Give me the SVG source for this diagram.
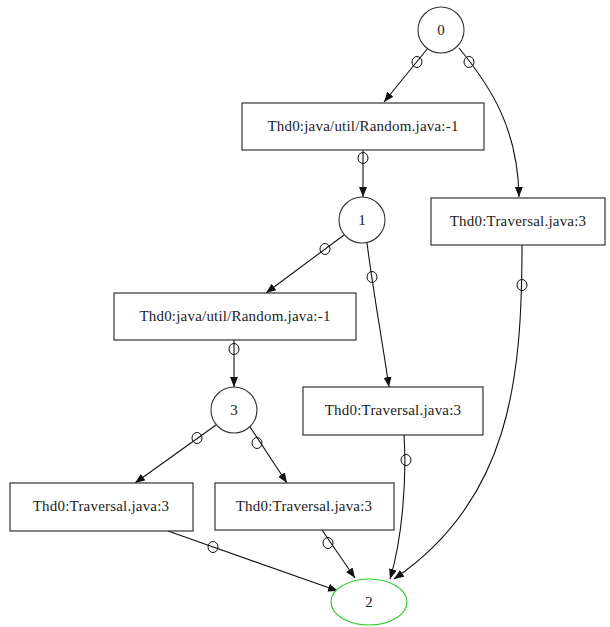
<svg xmlns="http://www.w3.org/2000/svg" width="610" height="627" viewBox="0 0 610 627">
  <style>
    .box { fill: #ffffff; stroke: #333333; stroke-width: 1.2; }
    .state { fill: #ffffff; stroke: #333333; stroke-width: 1.1; }
    .final { fill: #ffffff; stroke: #33cc33; stroke-width: 1.2; }
    .label { font-family: "Liberation Serif", "Times New Roman", serif; font-size: 15px; letter-spacing: 0.2px; fill: #222222; text-anchor: middle; }
    .num { font-family: "Liberation Serif", "Times New Roman", serif; font-size: 15px; fill: #222222; text-anchor: middle; }
    .edge { fill: none; stroke: #111111; stroke-width: 1.1; marker-end: url(#arrow); }
    .tail { fill: #ffffff; fill-opacity: 0; stroke: #111111; stroke-width: 1; }
  </style>
  <defs>
    <marker id="arrow" markerUnits="userSpaceOnUse" markerWidth="11" markerHeight="9" refX="10" refY="4" orient="auto">
      <path d="M0,0 L10,4 L0,8 z" fill="#111111"/>
    </marker>
  </defs>
  <rect width="610" height="627" fill="#ffffff"/>

  <g id="connectors">
    <!-- 0 -> Random (top) -->
    <path class="edge" d="M428,48 L384,102"/>
    <ellipse class="tail" cx="417" cy="62" rx="5" ry="5.5"/>
    <!-- 0 -> Traversal (right) -->
    <path class="edge" d="M459,48 C492,88 518,130 519,197"/>
    <ellipse class="tail" cx="469" cy="62" rx="5" ry="5.5"/>
    <!-- Random (top) -> 1 -->
    <path class="edge" d="M363,150 L363,197"/>
    <ellipse class="tail" cx="363" cy="158" rx="5" ry="5.5"/>
    <!-- 1 -> Random (middle) -->
    <path class="edge" d="M344,235 L266,293"/>
    <ellipse class="tail" cx="325" cy="249" rx="5" ry="5.5"/>
    <!-- 1 -> Traversal (middle right) -->
    <path class="edge" d="M367,243 C373,290 382,340 389,387"/>
    <ellipse class="tail" cx="372" cy="277" rx="5" ry="5.5"/>
    <!-- Traversal (right) -> 2 -->
    <path class="edge" d="M522,245 C522,380 510,500 394,579"/>
    <ellipse class="tail" cx="522" cy="285" rx="5" ry="5.5"/>
    <!-- Random (middle) -> 3 -->
    <path class="edge" d="M234,340 L234,387"/>
    <ellipse class="tail" cx="234" cy="349" rx="5" ry="5.5"/>
    <!-- 3 -> Traversal (bottom left) -->
    <path class="edge" d="M216,425 L135,483"/>
    <ellipse class="tail" cx="197" cy="438" rx="5" ry="5.5"/>
    <!-- 3 -> Traversal (bottom middle) -->
    <path class="edge" d="M250,427 L287,483"/>
    <ellipse class="tail" cx="257" cy="443" rx="5" ry="5.5"/>
    <!-- Traversal (bottom left) -> 2 -->
    <path class="edge" d="M168,531 L338,591"/>
    <ellipse class="tail" cx="213" cy="547" rx="5" ry="5.5"/>
    <!-- Traversal (bottom middle) -> 2 -->
    <path class="edge" d="M322,530 L355,578"/>
    <ellipse class="tail" cx="328" cy="543" rx="5" ry="5.5"/>
    <!-- Traversal (middle right) -> 2 -->
    <path class="edge" d="M404,435 C407,480 402,540 390,579"/>
    <ellipse class="tail" cx="406" cy="460" rx="5" ry="5.5"/>
  </g>

  <g id="n0">
    <circle class="state" cx="441" cy="30" r="23"/>
    <text class="num" x="441" y="35">0</text>
  </g>
  <g id="r1">
    <rect class="box" x="242" y="103" width="242" height="47"/>
    <text class="label" x="363" y="131">Thd0:java/util/Random.java:-1</text>
  </g>
  <g id="n1">
    <circle class="state" cx="362" cy="220" r="23"/>
    <text class="num" x="362" y="225">1</text>
  </g>
  <g id="t1">
    <rect class="box" x="431" y="198" width="174" height="47"/>
    <text class="label" x="518" y="226">Thd0:Traversal.java:3</text>
  </g>
  <g id="r2">
    <rect class="box" x="114" y="293" width="242" height="47"/>
    <text class="label" x="235" y="321">Thd0:java/util/Random.java:-1</text>
  </g>
  <g id="n3">
    <circle class="state" cx="234" cy="410" r="23"/>
    <text class="num" x="234" y="415">3</text>
  </g>
  <g id="t2">
    <rect class="box" x="303" y="387" width="180" height="48"/>
    <text class="label" x="393" y="415">Thd0:Traversal.java:3</text>
  </g>
  <g id="t3">
    <rect class="box" x="10" y="483" width="183" height="48"/>
    <text class="label" x="101" y="511">Thd0:Traversal.java:3</text>
  </g>
  <g id="t4">
    <rect class="box" x="215" y="483" width="179" height="47"/>
    <text class="label" x="304" y="511">Thd0:Traversal.java:3</text>
  </g>
  <g id="n2">
    <ellipse class="final" cx="369" cy="602" rx="38" ry="23"/>
    <text class="num" x="369" y="607">2</text>
  </g>
</svg>
